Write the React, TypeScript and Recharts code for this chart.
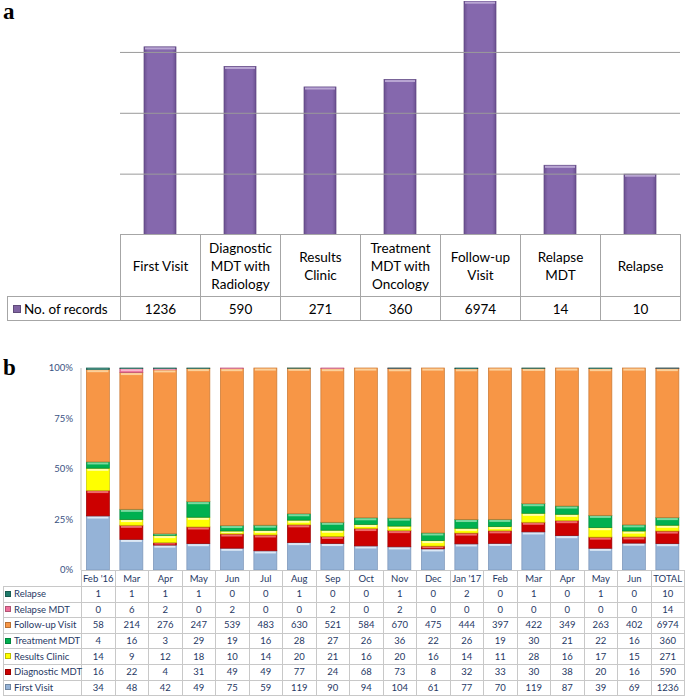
import React from "react";
import { BarChart, Bar, XAxis, YAxis, ReferenceLine } from "recharts";

// panel a
const stages = [
  "First Visit",
  "Diagnostic\nMDT with\nRadiology",
  "Results\nClinic",
  "Treatment\nMDT with\nOncology",
  "Follow-up\nVisit",
  "Relapse\nMDT",
  "Relapse",
];
const records = [1236, 590, 271, 360, 6974, 14, 10];
const logGrid = [10, 100, 1000];

// panel b
const months = [
  "Feb '16", "Mar", "Apr", "May", "Jun", "Jul", "Aug", "Sep", "Oct",
  "Nov", "Dec", "Jan '17", "Feb", "Mar", "Apr", "May", "Jun", "TOTAL",
];
const relapse = [1, 1, 1, 1, 0, 0, 1, 0, 0, 1, 0, 2, 0, 1, 0, 1, 0, 10];
const relapseMdt = [0, 6, 2, 0, 2, 0, 0, 2, 0, 2, 0, 0, 0, 0, 0, 0, 0, 14];
const followUp = [58, 214, 276, 247, 539, 483, 630, 521, 584, 670, 475, 444, 397, 422, 349, 263, 402, 6974];
const treatmentMdt = [4, 16, 3, 29, 19, 16, 28, 27, 26, 36, 22, 26, 19, 30, 21, 22, 16, 360];
const resultsClinic = [14, 9, 12, 18, 10, 14, 20, 21, 16, 20, 16, 14, 11, 28, 16, 17, 15, 271];
const diagnosticMdt = [16, 22, 4, 31, 49, 49, 77, 24, 68, 73, 8, 32, 33, 30, 38, 20, 16, 590];
const firstVisit = [34, 48, 42, 49, 75, 59, 119, 90, 94, 104, 61, 77, 70, 119, 87, 39, 69, 1236];
const pctTicks = [0, 0.25, 0.5, 0.75, 1];

// bottom to top
const SERIES = [
  { key: "firstVisit", name: "First Visit", values: firstVisit, color: "#95b3d7", light: "#dce8f5", edge: "#7a95b8" },
  { key: "diagnosticMdt", name: "Diagnostic MDT", values: diagnosticMdt, color: "#cc0000", light: "#ee6a6a", edge: "#9a0000" },
  { key: "resultsClinic", name: "Results Clinic", values: resultsClinic, color: "#ffff00", light: "#ffffaa", edge: "#c8c800" },
  { key: "treatmentMdt", name: "Treatment MDT", values: treatmentMdt, color: "#00b050", light: "#7ad9a0", edge: "#00863c" },
  { key: "followUp", name: "Follow-up Visit", values: followUp, color: "#f79646", light: "#fbd09a", edge: "#c87834" },
  { key: "relapseMdt", name: "Relapse MDT", values: relapseMdt, color: "#ee6f9a", light: "#f8b6cc", edge: "#c05078" },
  { key: "relapse", name: "Relapse", values: relapse, color: "#1f7a6a", light: "#6fb0a4", edge: "#15584c" },
];

const dataA = stages.map((s, i) => ({ stage: s, records: records[i] }));
const dataB = months.map((m, i) => {
  const row: Record<string, string | number> = { month: m };
  SERIES.forEach((s) => (row[s.key] = s.values[i]));
  return row;
});

const FONT = "Lato, 'Open Sans', sans-serif";
const NAVY = "#1f3864";

function BevelBar(props: any) {
  const { x, y, width, height, fill, light, edge } = props;
  if (!height || height <= 0.2) return null;
  const hl = Math.min(2, height / 2);
  return (
    <g>
      <rect x={x} y={y} width={width} height={height} fill={fill} stroke={edge} strokeWidth={0.7} />
      <rect x={x + 1} y={y + 0.6} width={Math.max(0, width - 2)} height={hl} fill={light} />
    </g>
  );
}

function Square({ color, size }: { color: string; size: number }) {
  return (
    <span
      style={{
        display: "inline-block",
        width: size,
        height: size,
        background: color,
        border: "1px solid rgba(0,0,0,0.25)",
        boxSizing: "border-box",
        marginRight: 3,
        verticalAlign: "middle",
        position: "relative",
        top: -1,
      }}
    />
  );
}

const cellA: React.CSSProperties = {
  border: "1px solid #a6a6a6",
  textAlign: "center",
  padding: 0,
  whiteSpace: "pre-line",
  lineHeight: "18px",
};

const cellB: React.CSSProperties = {
  border: "1px solid #c8c8c8",
  textAlign: "center",
  padding: 0,
  lineHeight: "14px",
};

const panelLabel: React.CSSProperties = {
  position: "absolute",
  left: 3,
  fontFamily: "'Liberation Serif', serif",
  fontWeight: "bold",
  fontSize: 23,
  lineHeight: "23px",
};

export default function App() {
  return (
    <div style={{ position: "absolute", left: 0, top: 0, width: 685, height: 698, background: "#fff", overflow: "hidden" }}>
      <div style={{ ...panelLabel, top: 0 }}>a</div>

      <div style={{ position: "absolute", left: 120, top: 0 }}>
        <BarChart width={560} height={235} data={dataA} margin={{ top: 1, right: 0, bottom: 0, left: 0 }} barCategoryGap="30%">
          <defs>
            <linearGradient id="purple" x1="0" y1="0" x2="1" y2="0">
              <stop offset="0%" stopColor="#6b5190" />
              <stop offset="12%" stopColor="#8568ad" />
              <stop offset="88%" stopColor="#8568ad" />
              <stop offset="100%" stopColor="#6b5190" />
            </linearGradient>
          </defs>
          <XAxis dataKey="stage" hide />
          <YAxis hide scale="log" type="number" domain={[1, 7000]} allowDataOverflow />
          {logGrid.map((v) => (
            <ReferenceLine key={v} y={v} stroke="#9a9a9a" strokeWidth={1} />
          ))}
          <Bar
            dataKey="records"
            isAnimationActive={false}
            shape={(p: any) => <BevelBar {...p} fill="url(#purple)" light="#b9a6d3" edge="#5e4781" />}
          />
        </BarChart>
      </div>

      <table
        style={{
          position: "absolute",
          left: 7,
          top: 234,
          width: 673,
          borderCollapse: "collapse",
          tableLayout: "fixed",
          fontFamily: FONT,
          fontSize: 13.5,
          color: "#000",
        }}
      >
        <colgroup>
          <col style={{ width: 113 }} />
          {stages.map((s) => (
            <col key={s} style={{ width: 80 }} />
          ))}
        </colgroup>
        <tbody>
          <tr style={{ height: 62 }}>
            <td style={{ padding: 0, border: "none" }} />
            {stages.map((s) => (
              <td key={s} style={cellA}>
                {s}
              </td>
            ))}
          </tr>
          <tr style={{ height: 24 }}>
            <td style={{ ...cellA, textAlign: "left", paddingLeft: 5, whiteSpace: "nowrap" }}>
              <Square color="#8064a2" size={8} />
              No. of records
            </td>
            {records.map((r, i) => (
              <td key={i} style={cellA}>
                {r}
              </td>
            ))}
          </tr>
        </tbody>
      </table>

      <div style={{ ...panelLabel, top: 356 }}>b</div>

      <div style={{ position: "absolute", left: 0, top: 360 }}>
        <BarChart
          width={685}
          height={220}
          data={dataB}
          stackOffset="expand"
          margin={{ top: 8, right: 1, bottom: 10, left: 0 }}
          barCategoryGap="16%"
        >
          <XAxis dataKey="month" hide />
          <YAxis
            width={81}
            type="number"
            domain={[0, 1]}
            ticks={pctTicks}
            interval={0}
            tickFormatter={(v: number) => `${Math.round(v * 100)}%`}
            tickLine={false}
            axisLine={{ stroke: "#bfbfbf" }}
            tick={{ fill: "#3b5282", fontSize: 9.5, fontFamily: FONT }}
          />
          {SERIES.map((s) => (
            <Bar
              key={s.key}
              dataKey={s.key}
              name={s.name}
              stackId="m"
              isAnimationActive={false}
              shape={(p: any) => <BevelBar {...p} fill={s.color} light={s.light} edge={s.edge} />}
            />
          ))}
        </BarChart>
      </div>

      <table
        style={{
          position: "absolute",
          left: 3,
          top: 570,
          width: 681,
          borderCollapse: "collapse",
          tableLayout: "fixed",
          fontFamily: FONT,
          fontSize: 9.5,
          color: NAVY,
        }}
      >
        <colgroup>
          <col style={{ width: 78 }} />
          {months.map((m, i) => (
            <col key={i} style={{ width: 33.5 }} />
          ))}
        </colgroup>
        <tbody>
          <tr style={{ height: 16 }}>
            <td style={{ padding: 0, border: "none" }} />
            {months.map((m, i) => (
              <td key={i} style={{ ...cellB, whiteSpace: "nowrap" }}>
                {m}
              </td>
            ))}
          </tr>
          {[...SERIES].reverse().map((s) => (
            <tr key={s.key} style={{ height: 15.6 }}>
              <td style={{ ...cellB, textAlign: "left", paddingLeft: 1, whiteSpace: "nowrap" }}>
                <Square color={s.color} size={6} />
                {s.name}
              </td>
              {s.values.map((v, i) => (
                <td key={i} style={cellB}>
                  {v}
                </td>
              ))}
            </tr>
          ))}
        </tbody>
      </table>
    </div>
  );
}
